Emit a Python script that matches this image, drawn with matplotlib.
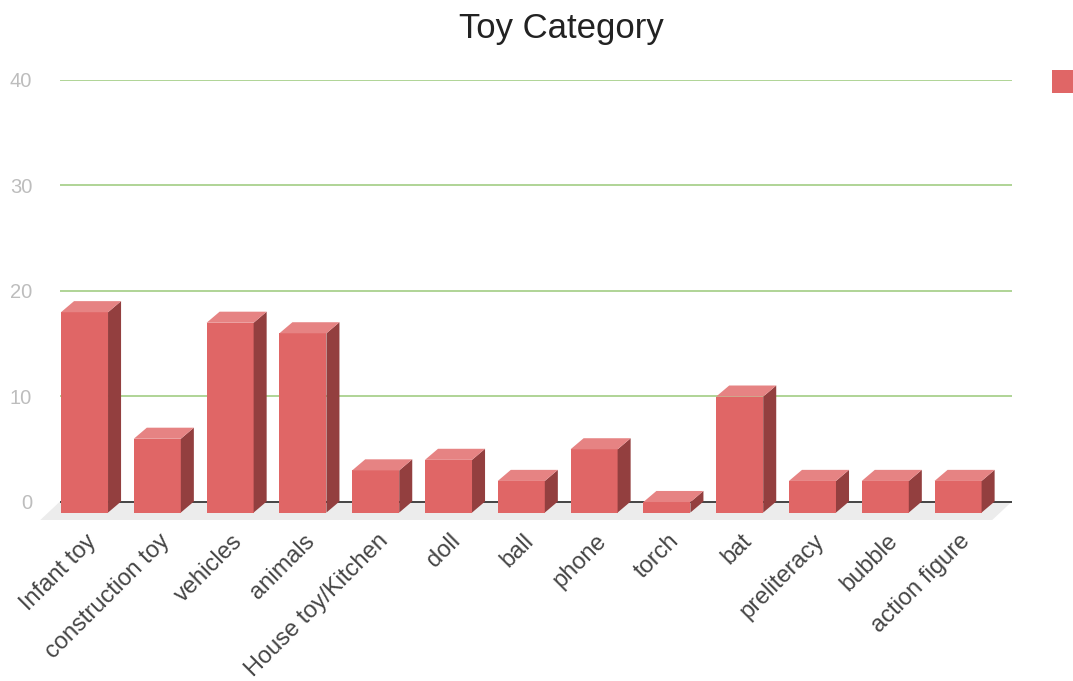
import matplotlib
matplotlib.use("Agg")
import matplotlib.pyplot as plt
from matplotlib.patches import Polygon, Patch

plt.rcParams['font.family'] = ['Liberation Sans', 'DejaVu Sans']

title = "Toy Category"
categories = ["Infant toy", "construction toy", "vehicles", "animals",
              "House toy/Kitchen", "doll", "ball", "phone", "torch", "bat",
              "preliteracy", "bubble", "action figure"]
values = [19, 7, 18, 17, 4, 5, 3, 6, 1, 11, 3, 3, 3]
y_ticks = [0, 10, 20, 30, 40]

front_c = "#e06666"
side_c = "#933f3f"
top_c = "#e68383"

fig = plt.figure(figsize=(10.73, 6.81), dpi=100)
ax = fig.add_axes([0.0559, 0.2326, 0.8872, 0.6504])
x0, x1 = -0.337, 12.74
ax.set_xlim(x0, x1)
ax.set_ylim(-2, 40)
for s in ax.spines.values():
    s.set_visible(False)

w = 0.646      # bar front width
dx = 0.179     # depth in x
dy = 1.05      # depth in y

# floor
floor = Polygon([(x0, 0), (x1, 0), (x1 - 0.27, -1.75), (x0 - 0.27, -1.75)],
                closed=True, facecolor="#ececec", edgecolor="none", zorder=0,
                clip_on=False)
ax.add_patch(floor)

# gridlines
for t in y_ticks[1:]:
    ax.axhline(t, color="#a9d18e", lw=1.3, zorder=1)
ax.axhline(0, color="#444444", lw=1.4, zorder=1)

for i, v in enumerate(values):
    xl = i - w / 2
    xr = i + w / 2
    front = Polygon([(xl, -dy), (xr, -dy), (xr, v - dy), (xl, v - dy)],
                    closed=True, facecolor=front_c, edgecolor="none", zorder=3, clip_on=False)
    side = Polygon([(xr, -dy), (xr + dx, 0), (xr + dx, v), (xr, v - dy)],
                   closed=True, facecolor=side_c, edgecolor="none", zorder=3, clip_on=False)
    top = Polygon([(xl, v - dy), (xl + dx, v), (xr + dx, v), (xr, v - dy)],
                  closed=True, facecolor=top_c, edgecolor="none", zorder=3, clip_on=False)
    for p in (front, side, top):
        ax.add_patch(p)

ax.set_yticks(y_ticks)
ax.set_yticklabels([str(t) for t in y_ticks], fontsize=14.5, color="#bdbdbd")
ax.tick_params(axis='y', length=0, pad=20)

ax.set_xticks([i + 0.12 for i in range(len(categories))])
ax.set_xticklabels(categories, rotation=45, ha='right', va='center',
                   rotation_mode='anchor', fontsize=17, color="#454545")
ax.tick_params(axis='x', length=0, pad=11)

fig.text(561 / 1073, 1 - 38 / 681, title, ha='center', va='baseline',
         fontsize=25, color="#222222")

fig.legend(handles=[Patch(facecolor=front_c, edgecolor='none')], labels=[""],
           loc='upper left', bbox_to_anchor=(1052 / 1073, 1 - 70 / 681),
           frameon=False, fontsize=14, handlelength=1.1, handleheight=1.45,
           borderpad=0, borderaxespad=0, handletextpad=0.5)

fig.savefig("out.png", dpi=100)
